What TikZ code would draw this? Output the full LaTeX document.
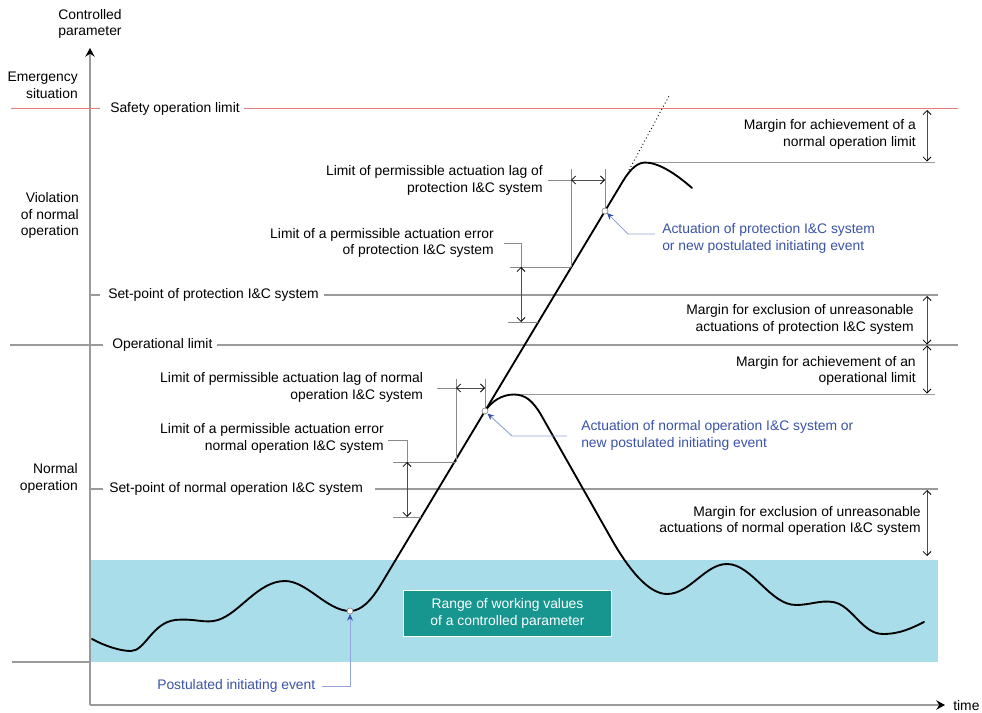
\documentclass[tikz,border=0pt]{standalone}
\usepackage{fontspec}
\setmainfont{Liberation Sans}
\usetikzlibrary{arrows.meta}

\definecolor{lvgray}{HTML}{9A9A9A}
\definecolor{extgray}{HTML}{8A8A8A}
\definecolor{safered}{HTML}{E57B7B}
\definecolor{bandblue}{HTML}{A9DDE9}
\definecolor{boxteal}{HTML}{17968F}
\definecolor{noteblue}{HTML}{3A52A8}
\definecolor{leadblue}{HTML}{93A4D8}

\begin{document}
\begin{tikzpicture}[x=0.75pt,y=-0.75pt,
  font=\fontsize{10.4}{12.6}\selectfont,
  axis/.style={draw=lvgray, line width=1.1pt, -{Stealth[length=6.5pt,width=7pt,inset=2.2pt,color=black]}},
  lvl/.style={anchor=west, inner sep=0pt},
  levelline/.style={draw=lvgray, line width=0.9pt},
  safeline/.style={draw=safered, line width=0.75pt},
  extline/.style={draw=extgray, line width=0.55pt},
  dimarrow/.style={draw=black!70, line width=0.55pt,
    {Straight Barb[length=3pt,width=6pt,color=black]}-{Straight Barb[length=3pt,width=6pt,color=black]}},
  curveline/.style={draw=black, line width=1.4pt, line cap=round, line join=round},
  rlabel/.style={anchor=east, align=right, inner sep=0pt},
  note/.style={anchor=west, align=left, inner sep=0pt, text=noteblue},
  leader/.style={draw=leadblue, line width=0.7pt, -{Stealth[length=5pt,width=4.5pt,color=noteblue]}},
  eventdot/.style={circle, draw=extgray, fill=white, line width=0.5pt, inner sep=0pt, minimum size=4.5pt}
]
\useasboundingbox (0,0) rectangle (982,713);

% range of working values
\fill[bandblue] (90,560) rectangle (938,662);
\coordinate (baseL) at (12,662);
\coordinate (baseR) at (90,662);
\draw[levelline] (baseL) -- (baseR);
\node[fill=boxteal, draw=white, line width=0.6pt, text=white, align=center,
      minimum width=156pt, minimum height=35pt, inner sep=2pt] (range) at (507.5,613.5)
      {Range of working values\\of a controlled parameter};

% axes
\coordinate (O) at (90,705);
\coordinate (ytip) at (90,48);
\coordinate (xtip) at (945,705);
\draw[axis] (O) -- (ytip);
\draw[axis] (O) -- (xtip);
\node[anchor=west, inner sep=0pt] (tlabel) at (953,706) {time};
\node[align=center, inner sep=0pt] (ylabel) at (90,24) {Controlled\\parameter};

% zones
\node[rlabel] (zemerg) at (78,85.5) {Emergency\\situation};
\node[rlabel] (zviol) at (79,215.5) {Violation\\of normal\\operation};
\node[rlabel] (znorm) at (78,478.5) {Normal\\operation};

% limit levels
\node[lvl] (safe) at (110,109) {Safety operation limit};
\draw[safeline] (11,109) -- ([xshift=-7.5pt]safe.west);
\draw[safeline] ([xshift=3pt]safe.east) -- (958,109);

\node[lvl] (oplim) at (112,345) {Operational limit};
\draw[levelline] (10,345) -- ([xshift=-7pt]oplim.west);
\draw[levelline] ([xshift=3pt]oplim.east) -- (958,345);

\node[lvl] (spp) at (108,295) {Set-point of protection I\&C system};
\draw[levelline] (90,295) -- ([xshift=-6pt]spp.west);
\draw[levelline] ([xshift=4pt]spp.east) -- (938,295);

\node[lvl] (spn) at (109,489) {Set-point of normal operation I\&C system};
\draw[levelline] (90,489) -- ([xshift=-4.5pt]spn.west);
\draw[levelline] ([xshift=9pt]spn.east) -- (938,489);

% key points of the process curve
\coordinate (pie) at (350,611);
\coordinate (nact) at (485,411);
\coordinate (pact) at (605,211);
\coordinate (ppeak) at (645,162.5);
\coordinate (npeak) at (514,394.5);

% peak levels
\draw[levelline] (ppeak) -- (935,162.5);
\draw[levelline] (npeak) -- (935,394.5);

% extrapolation of the rise
\coordinate (dotA) at (629,170);
\coordinate (dotB) at (669,96);
\draw[black, line width=0.7pt, dotted] (dotA) -- (dotB);

% process curve: fluctuations, rise and protection response
\draw[curveline] (92,639) .. controls (105,646) and (120,651) .. (131,651)
  .. controls (145,651) and (152,623) .. (175,620)
  .. controls (195,618) and (205,624) .. (218,620)
  .. controls (240,613) and (258,581) .. (285,581)
  .. controls (307,581) and (327,611) .. (pie)
  .. controls (362,611) and (372,599) .. (380,586)
  -- (nact) -- (pact) -- (620.6,185)
  .. controls (627,174) and (635,162.5) .. (ppeak)
  .. controls (658,162.5) and (675,173) .. (692,188);

% normal operation response and return to working range
\draw[curveline] (nact) .. controls (492,401) and (502,394.5) .. (npeak)
  .. controls (526,394.5) and (533,402) .. (540,413)
  -- (612,540)
  .. controls (628,568) and (648,594) .. (667,594)
  .. controls (690,594) and (705,564) .. (727,564)
  .. controls (752,564) and (770,605) .. (796,605)
  .. controls (810,605) and (820,600) .. (833,602)
  .. controls (852,605) and (862,634) .. (883,634)
  .. controls (900,634) and (912,628) .. (924,622);

% protection I&C: actuation lag
\coordinate (plagA) at (571,169);
\coordinate (plagB) at (571,267);
\coordinate (plagC) at (605,169);
\draw[extline] (plagA) -- (plagB);
\draw[extline] (plagC) -- (pact);
\node[rlabel] (plaglbl) at (543,180.5) {Limit of permissible actuation lag of\\protection I\&C system};
\draw[extline] ([xshift=3.5pt]plaglbl.east |- 0,180) -- (571,180);
\draw[dimarrow] (571,180) -- (605,180);

% protection I&C: actuation error
\coordinate (perrT) at (521,267);
\coordinate (perrB) at (521,322);
\draw[extline] (510,267) -- (plagB);
\draw[extline] (508,322) -- (538.4,322);
\node[rlabel] (perrlbl) at (494,243) {Limit of a permissible actuation error\\of protection I\&C system};
\draw[extline] (504,243) -- (521,243) -- (perrT);
\draw[dimarrow] (perrT) -- (perrB);

% normal operation I&C: actuation lag
\coordinate (nlagA) at (456,379);
\coordinate (nlagB) at (456,462);
\coordinate (nlagC) at (485,379);
\draw[extline] (nlagA) -- (nlagB);
\draw[extline] (nlagC) -- (nact);
\node[rlabel] (nlaglbl) at (423.3,387.5) {Limit of permissible actuation lag of normal\\operation I\&C system};
\draw[extline] (437,388) -- (456,388);
\draw[dimarrow] (456,388) -- (485,388);

% normal operation I&C: actuation error
\coordinate (nerrT) at (407,462);
\coordinate (nerrB) at (407,517);
\draw[extline] (393,462) -- (nlagB);
\draw[extline] (393,517) -- (421.2,517);
\node[rlabel] (nerrlbl) at (384,438.5) {Limit of a permissible actuation error\\normal operation I\&C system};
\draw[extline] (388,440) -- (407,440) -- (nerrT);
\draw[dimarrow] (nerrT) -- (nerrB);

% margins
\node[rlabel] (m1) at (916,134.5) {Margin for achievement of a\\normal operation limit};
\draw[dimarrow] (927,110) -- (927,161.5);
\node[rlabel] (m2) at (914,319.5) {Margin for exclusion of unreasonable\\actuations of protection I\&C system};
\draw[dimarrow] (927,296) -- (927,344.5);
\node[rlabel] (m3) at (916,371) {Margin for achievement of an\\operational limit};
\draw[dimarrow] (927,345.5) -- (927,393.5);
\node[rlabel] (m4) at (921,521) {Margin for exclusion of unreasonable\\actuations of normal operation I\&C system};
\draw[dimarrow] (927,490) -- (927,556);

% events
\node[note] (pnote) at (662,238.7) {Actuation of protection I\&C system\\or new postulated initiating event};
\draw[leader] (655,234) -- (628,234) -- (607,213);
\node[note] (nnote) at (581,435.5) {Actuation of normal operation I\&C system or\\new postulated initiating event};
\draw[leader] (567,436) -- (512,436) -- (487.5,413.5);
\node[note] (pienote) at (157,686) {Postulated initiating event};
\draw[leader] (322,686) -- (350,686) -- (350,614);

\node[eventdot] (piedot) at (pie) {};
\node[eventdot] (nactdot) at (nact) {};
\node[eventdot] (pactdot) at (pact) {};
\end{tikzpicture}
\end{document}
